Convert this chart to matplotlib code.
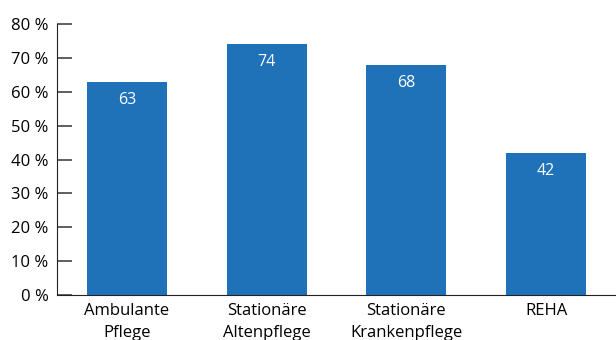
import matplotlib
matplotlib.use("Agg")
import matplotlib.pyplot as plt

categories = ["Ambulante\nPflege", "Stationäre\nAltenpflege", "Stationäre\nKrankenpflege", "REHA"]
values = [63, 74, 68, 42]
yticks = [0, 10, 20, 30, 40, 50, 60, 70, 80]
ytick_labels = [f"{t} %" for t in yticks]

blue = "#1f71b8"

plt.rcParams["font.family"] = ["Open Sans", "DejaVu Sans"]

fig = plt.figure(figsize=(6.16, 3.40), dpi=100)
ax = fig.add_axes([57 / 616, 1 - 295 / 340, 1 - 57 / 616, (295 - 24) / 340])

x = range(len(values))
bars = ax.bar(x, values, width=0.571, color=blue)
for xi, v in zip(x, values):
    ax.text(xi, v - 3.0, str(v), ha="center", va="top", color="white", fontsize=11.5)

ax.set_xlim(-0.5, 3.5)
ax.set_ylim(0, 80)
ax.set_yticks(yticks)
ax.set_yticklabels(ytick_labels, fontsize=12)
ax.set_xticks(list(x))
ax.set_xticklabels(categories, fontsize=12, linespacing=1.45)

ax.spines["top"].set_visible(False)
ax.spines["right"].set_visible(False)
ax.spines["left"].set_color("#222222")
ax.spines["bottom"].set_color("#222222")
ax.tick_params(axis="y", direction="in", length=11, width=1.2, color="#444444", pad=6)
ax.tick_params(axis="x", length=0, pad=6)

fig.savefig("out.png", dpi=100)
